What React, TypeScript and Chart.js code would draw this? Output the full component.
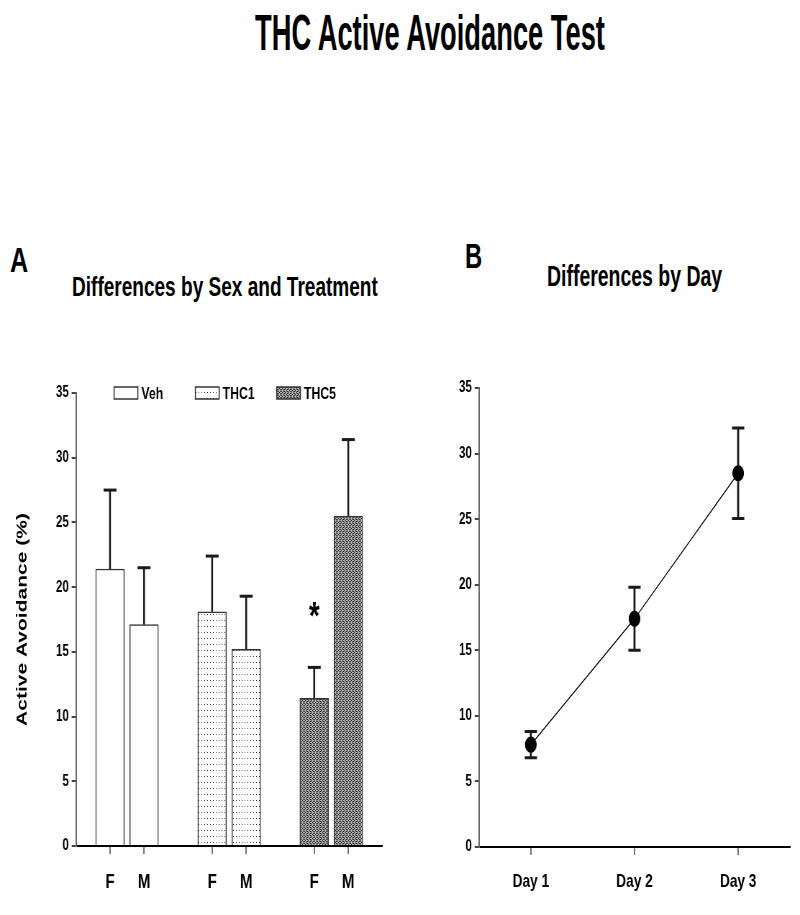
import React, { useEffect, useLayoutEffect, useRef, useState } from 'react';
import { Chart, registerables } from 'chart.js';

Chart.register(...registerables);

const FONT = '"Liberation Sans", Arial, Helvetica, sans-serif';

// ---------- data ----------
const groups = ['Veh', 'THC1', 'THC5'];
const sexes = ['F', 'M'];
const vehMeans = [21.4, 17.1];
const vehSem = [6.1, 4.4];
const thc1Means = [18.1, 15.2];
const thc1Sem = [4.3, 4.1];
const thc5Means = [11.4, 25.5];
const thc5Sem = [2.4, 5.9];
const thc5Marks = ['*', ''];
const yMin = 0;
const yMax = 35;
const yStep = 5;

const days = ['Day 1', 'Day 2', 'Day 3'];
const dayMeans = [7.8, 17.4, 28.5];
const daySem = [1.0, 2.4, 3.45];

// ---------- layout helpers ----------
const K = 0.7194; // horizontal compression of the figure
const CW = 556;
const CH = 555;

function makeDotPattern(ctx: CanvasRenderingContext2D) {
  const c = document.createElement('canvas');
  c.width = 4;
  c.height = 6;
  const g = c.getContext('2d')!;
  g.fillStyle = '#ffffff';
  g.fillRect(0, 0, 4, 6);
  g.fillStyle = '#2a2a2a';
  g.fillRect(0, 2, 1, 1);
  return ctx.createPattern(c, 'repeat');
}

function makeHatchPattern(ctx: CanvasRenderingContext2D) {
  const c = document.createElement('canvas');
  c.width = 4;
  c.height = 4;
  const g = c.getContext('2d')!;
  g.fillStyle = '#b8b8b8';
  g.fillRect(0, 0, 4, 4);
  g.fillStyle = '#151515';
  for (let y = 0; y < 4; y++) {
    for (let x = 0; x < 4; x++) {
      if ((x + y) % 4 === 0 || (x - y + 4) % 4 === 0) g.fillRect(x, y, 1, 1);
    }
  }
  return ctx.createPattern(c, 'repeat');
}

const barErrorPlugin = {
  id: 'barErrors',
  afterDatasetsDraw(chart: any) {
    const { ctx } = chart;
    const ys = chart.scales.y;
    chart.data.datasets.forEach((ds: any, i: number) => {
      const meta = chart.getDatasetMeta(i);
      meta.data.forEach((el: any, j: number) => {
        const v = ds.data[j].y;
        const e = ds.errorBars[j];
        const top = ys.getPixelForValue(v + e);
        ctx.save();
        ctx.strokeStyle = '#1a1a1a';
        ctx.lineWidth = 2.6;
        ctx.beginPath();
        ctx.moveTo(el.x, el.y);
        ctx.lineTo(el.x, top);
        ctx.stroke();
        ctx.lineWidth = 3;
        ctx.beginPath();
        ctx.moveTo(el.x - 9, top);
        ctx.lineTo(el.x + 9, top);
        ctx.stroke();
        const mark = ds.marks && ds.marks[j];
        if (mark) {
          ctx.fillStyle = '#000';
          ctx.font = `bold 38px ${FONT}`;
          ctx.textAlign = 'center';
          ctx.textBaseline = 'alphabetic';
          ctx.fillText(mark, el.x, top - 38);
        }
        ctx.restore();
      });
    });
  },
};

const insideLegendPlugin = {
  id: 'insideLegend',
  afterDraw(chart: any) {
    const { ctx, chartArea } = chart;
    const start = chartArea.left + 53;
    const step = 113;
    const bw = 33;
    const bh = 12;
    chart.data.datasets.forEach((ds: any, i: number) => {
      const x = start + i * step;
      const yc = chartArea.top;
      ctx.save();
      ctx.fillStyle = ds.backgroundColor;
      ctx.fillRect(x, yc - bh / 2, bw, bh);
      ctx.strokeStyle = '#333';
      ctx.lineWidth = 1.5;
      ctx.strokeRect(x, yc - bh / 2, bw, bh);
      ctx.fillStyle = '#000';
      ctx.font = `bold 17px ${FONT}`;
      ctx.textAlign = 'left';
      ctx.textBaseline = 'middle';
      ctx.fillText(ds.label, x + bw + 5, yc + 1);
      ctx.restore();
    });
  },
};

const lineErrorPlugin = {
  id: 'lineErrors',
  beforeDatasetsDraw(chart: any) {
    const { ctx } = chart;
    const ys = chart.scales.y;
    chart.data.datasets.forEach((ds: any, i: number) => {
      const meta = chart.getDatasetMeta(i);
      meta.data.forEach((el: any, j: number) => {
        const v = ds.data[j];
        const e = ds.errorBars[j];
        const top = ys.getPixelForValue(v + e);
        const bot = ys.getPixelForValue(v - e);
        ctx.save();
        ctx.strokeStyle = '#1a1a1a';
        ctx.lineWidth = 2.8;
        ctx.beginPath();
        ctx.moveTo(el.x, top);
        ctx.lineTo(el.x, bot);
        ctx.stroke();
        ctx.lineWidth = 3;
        ctx.beginPath();
        ctx.moveTo(el.x - 8.5, top);
        ctx.lineTo(el.x + 8.5, top);
        ctx.moveTo(el.x - 8.5, bot);
        ctx.lineTo(el.x + 8.5, bot);
        ctx.stroke();
        ctx.restore();
      });
    });
  },
};

function yAxis(width: number, withTitle: boolean) {
  return {
    type: 'linear',
    min: yMin,
    max: yMax,
    afterFit: (s: any) => {
      s.width = width;
    },
    ticks: {
      stepSize: yStep,
      color: '#000',
      padding: 4,
      font: { family: FONT, weight: 'bold', size: 16 },
    },
    grid: {
      drawOnChartArea: false,
      drawTicks: true,
      tickLength: 6,
      color: '#444',
      lineWidth: 2,
    },
    border: { display: true, color: '#666', width: 2 },
    title: {
      display: withTitle,
      text: 'Active Avoidance (%)',
      color: '#000',
      font: { family: FONT, weight: 'bold', size: 21 },
      padding: { top: 19, bottom: 0 },
    },
  };
}

function Heading({ text, left, capTop, size, width }: any) {
  const ref = useRef<HTMLSpanElement>(null);
  const [scale, setScale] = useState(1);
  useLayoutEffect(() => {
    const el = ref.current;
    if (!el) return;
    const w = el.offsetWidth;
    if (w > 0) setScale(width / w);
  }, [text, width, size]);
  return (
    <span
      ref={ref}
      style={{
        position: 'absolute',
        left,
        top: capTop - 0.1305 * size,
        fontSize: size,
        lineHeight: 1,
        fontWeight: 'bold',
        fontFamily: FONT,
        whiteSpace: 'nowrap',
        color: '#000',
        transform: `scaleX(${scale})`,
        transformOrigin: '0 0',
      }}
    >
      {text}
    </span>
  );
}

function BarPanel() {
  const ref = useRef<HTMLCanvasElement>(null);
  useEffect(() => {
    const canvas = ref.current!;
    const ctx = canvas.getContext('2d')!;
    const fills = ['#ffffff', makeDotPattern(ctx), makeHatchPattern(ctx)];
    const means = [vehMeans, thc1Means, thc5Means];
    const sems = [vehSem, thc1Sem, thc5Sem];
    const marks = [[], [], thc5Marks];
    const slot = sexes.length + 1;
    const tickPositions = groups.flatMap((_, gi) => sexes.map((_s, si) => gi * slot + si + 1));
    const tickLabels = groups.flatMap(() => sexes);
    const chart = new Chart(ctx, {
      type: 'bar',
      data: {
        datasets: groups.map((g, gi) => ({
          label: g,
          data: sexes.map((_s, si) => ({ x: gi * slot + si + 1, y: means[gi][si] })),
          backgroundColor: fills[gi],
          borderColor: '#333',
          borderWidth: 1.5,
          barThickness: 40,
          grouped: false,
          errorBars: sems[gi],
          marks: marks[gi],
        })) as any,
      },
      options: {
        animation: false,
        responsive: false,
        devicePixelRatio: 1,
        layout: { padding: { left: 0, right: CW - 531.4, top: 33, bottom: CH - 486 - 60 } },
        plugins: { legend: { display: false }, tooltip: { enabled: false }, title: { display: false } },
        scales: {
          x: {
            type: 'linear',
            offset: false,
            min: 0,
            max: groups.length * slot,
            afterFit: (s: any) => {
              s.height = 60;
            },
            afterBuildTicks: (s: any) => {
              s.ticks = tickPositions.map((v) => ({ value: v }));
            },
            ticks: {
              autoSkip: false,
              maxRotation: 0,
              color: '#000',
              padding: 16,
              font: { family: FONT, weight: 'bold', size: 21 },
              callback: (_v: any, i: number) => tickLabels[i],
            },
            grid: { drawOnChartArea: false, drawTicks: true, tickLength: 8, color: '#777', lineWidth: 2, offset: false },
            border: { display: true, color: '#000', width: 2 },
          },
          y: yAxis(105.6, true),
        } as any,
      },
      plugins: [barErrorPlugin, insideLegendPlugin],
    });
    return () => chart.destroy();
  }, []);
  return (
    <canvas
      ref={ref}
      width={CW}
      height={CH}
      style={{
        position: 'absolute',
        left: 0,
        top: 360,
        width: CW,
        height: CH,
        transform: `scaleX(${K})`,
        transformOrigin: '0 0',
      }}
    />
  );
}

function LinePanel() {
  const ref = useRef<HTMLCanvasElement>(null);
  useEffect(() => {
    const canvas = ref.current!;
    const ctx = canvas.getContext('2d')!;
    const chart = new Chart(ctx, {
      type: 'line',
      data: {
        labels: days,
        datasets: [
          {
            label: 'Active Avoidance',
            data: dayMeans,
            borderColor: '#000',
            borderWidth: 1.2,
            pointRadius: 7.5,
            pointBackgroundColor: '#000',
            pointBorderColor: '#000',
            tension: 0,
            fill: false,
            errorBars: daySem,
          } as any,
        ],
      },
      options: {
        animation: false,
        responsive: false,
        devicePixelRatio: 1,
        layout: { padding: { left: 0, right: CW - 542.1, top: 28, bottom: CH - 487 - 60 } },
        plugins: { legend: { display: false }, tooltip: { enabled: false }, title: { display: false } },
        scales: {
          x: {
            type: 'category',
            offset: true,
            afterFit: (s: any) => {
              s.height = 60;
            },
            ticks: {
              maxRotation: 0,
              color: '#000',
              padding: 15,
              font: { family: FONT, weight: 'bold', size: 19 },
            },
            grid: { drawOnChartArea: false, drawTicks: true, tickLength: 8, color: '#777', lineWidth: 2, offset: false },
            border: { display: true, color: '#000', width: 2 },
          },
          y: yAxis(109.8, false),
        } as any,
      },
      plugins: [lineErrorPlugin],
    });
    return () => chart.destroy();
  }, []);
  return (
    <canvas
      ref={ref}
      width={CW}
      height={CH}
      style={{
        position: 'absolute',
        left: 400,
        top: 360,
        width: CW,
        height: CH,
        transform: `scaleX(${K})`,
        transformOrigin: '0 0',
      }}
    />
  );
}

export default function App() {
  return (
    <div
      style={{
        position: 'absolute',
        left: 0,
        top: 0,
        width: 800,
        height: 915,
        overflow: 'hidden',
        background: '#fff',
      }}
    >
      <Heading text="THC Active Avoidance Test" left={255} capTop={15} size={50} width={350} />
      <Heading text="A" left={10} capTop={247} size={35} width={18} />
      <Heading text="Differences by Sex and Treatment" left={72} capTop={277} size={28} width={306} />
      <Heading text="B" left={465} capTop={243} size={35} width={17} />
      <Heading text="Differences by Day" left={547} capTop={265} size={30} width={175} />
      <BarPanel />
      <LinePanel />
    </div>
  );
}
